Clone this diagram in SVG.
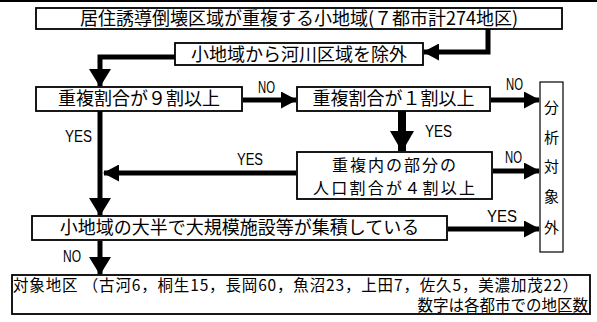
<svg xmlns="http://www.w3.org/2000/svg" width="597" height="322" viewBox="0 0 597 322">
<style>
.box{fill:#fff;stroke:#000;stroke-width:1.8}
.thin{fill:#fff;stroke:#000;stroke-width:1.2}
.t{font-family:"Noto Sans CJK JP","Noto Sans CJK SC",sans-serif;font-size:18px;fill:#000;text-anchor:middle}
.t2{font-family:"Noto Sans CJK JP","Noto Sans CJK SC",sans-serif;font-size:16px;fill:#000;text-anchor:middle}
.s{font-family:"Noto Sans CJK JP","Noto Sans CJK SC",sans-serif;font-size:15.5px;fill:#000}
.v{font-family:"Noto Sans CJK JP","Noto Sans CJK SC",sans-serif;font-size:15px;fill:#000;text-anchor:middle}
.lb{font-family:"Liberation Sans","DejaVu Sans",sans-serif;font-size:16px;fill:#000}
.c{fill:none;stroke:#000;stroke-width:5;stroke-linejoin:miter}
</style>
<defs>
<marker id="ah" markerUnits="userSpaceOnUse" markerWidth="16" markerHeight="17" refX="15" refY="8.5" orient="auto"><path d="M0,0 L16,8.5 L0,17 z" fill="#000"/></marker>
<marker id="av" markerUnits="userSpaceOnUse" markerWidth="18" markerHeight="22" refX="17" refY="11" orient="auto"><path d="M0,0 L18,11 L0,22 z" fill="#000"/></marker>
<marker id="aw" markerUnits="userSpaceOnUse" markerWidth="21" markerHeight="24" refX="20" refY="12" orient="auto"><path d="M0,0 L21,12 L0,24 z" fill="#000"/></marker>
</defs>
<rect x="0" y="0" width="597" height="2" fill="#000"/>
<g id="connectors">
<path class="c" d="M488,29 V52 H424" marker-end="url(#ah)"/>
<path class="c" d="M175,57 H100 V86" marker-end="url(#av)"/>
<path class="c" d="M243,100 H296" marker-end="url(#ah)"/>
<path class="c" d="M491,100 H539" marker-end="url(#ah)"/>
<path class="c" d="M402,111 V151" style="stroke-width:8" marker-end="url(#aw)"/>
<path class="c" d="M493,171 H539" marker-end="url(#ah)"/>
<path class="c" d="M296,173 H104" marker-end="url(#ah)"/>
<path class="c" d="M100,111 V215" marker-end="url(#av)"/>
<path class="c" d="M448,229 H539" marker-end="url(#ah)"/>
<path class="c" d="M100,241 V274" marker-end="url(#av)"/>
<text class="lb" x="258" y="93" textLength="17" lengthAdjust="spacingAndGlyphs">NO</text>
<text class="lb" x="506" y="90" textLength="17" lengthAdjust="spacingAndGlyphs">NO</text>
<text class="lb" x="505" y="163" textLength="17" lengthAdjust="spacingAndGlyphs">NO</text>
<text class="lb" x="63" y="262" textLength="18" lengthAdjust="spacingAndGlyphs">NO</text>
<text class="lb" x="65" y="142" textLength="27" lengthAdjust="spacingAndGlyphs">YES</text>
<text class="lb" x="237" y="165" textLength="26" lengthAdjust="spacingAndGlyphs">YES</text>
<text class="lb" x="425" y="137" textLength="27" lengthAdjust="spacingAndGlyphs">YES</text>
<text class="lb" x="487" y="222" textLength="30" lengthAdjust="spacingAndGlyphs">YES</text>
</g>
<g id="n1">
<rect class="box" x="36" y="8" width="526" height="21"/>
<text class="t" x="299" y="25">居住誘導倒壊区域が重複する小地域(７都市計274地区)</text>
</g>
<g id="n2">
<rect class="box" x="175" y="43" width="248" height="22"/>
<text class="t" x="299" y="61">小地域から河川区域を除外</text>
</g>
<g id="n3">
<rect class="box" x="36" y="87" width="206" height="24"/>
<text class="t" x="139" y="105">重複割合が９割以上</text>
</g>
<g id="n4">
<rect class="box" x="297" y="87" width="193" height="24"/>
<text class="t" x="393.5" y="105">重複割合が１割以上</text>
</g>
<g id="n5">
<rect class="thin" x="540" y="82" width="23" height="170"/>
<text class="v" x="551.5" y="113">分</text>
<text class="v" x="551.5" y="143">析</text>
<text class="v" x="551.5" y="172">対</text>
<text class="v" x="551.5" y="202">象</text>
<text class="v" x="551.5" y="233">外</text>
</g>
<g id="n6">
<rect class="box" x="297" y="152" width="195" height="47"/>
<text class="t2" x="394" y="171" textLength="124" lengthAdjust="spacing">重複内の部分の</text>
<text class="t2" x="394" y="194" textLength="162" lengthAdjust="spacing">人口割合が４割以上</text>
</g>
<g id="n7">
<rect class="box" x="32" y="216" width="415" height="24"/>
<text class="t" x="239.5" y="234">小地域の大半で大規模施設等が集積している</text>
</g>
<g id="n8">
<rect class="box" x="12" y="275" width="578" height="39"/>
<text class="s" x="13" y="291" textLength="565" lengthAdjust="spacing">対象地区 （古河6，桐生15，長岡60，魚沼23，上田7，佐久5，美濃加茂22）</text>
<text class="s" x="588" y="311" text-anchor="end">数字は各都市での地区数</text>
</g>
</svg>
